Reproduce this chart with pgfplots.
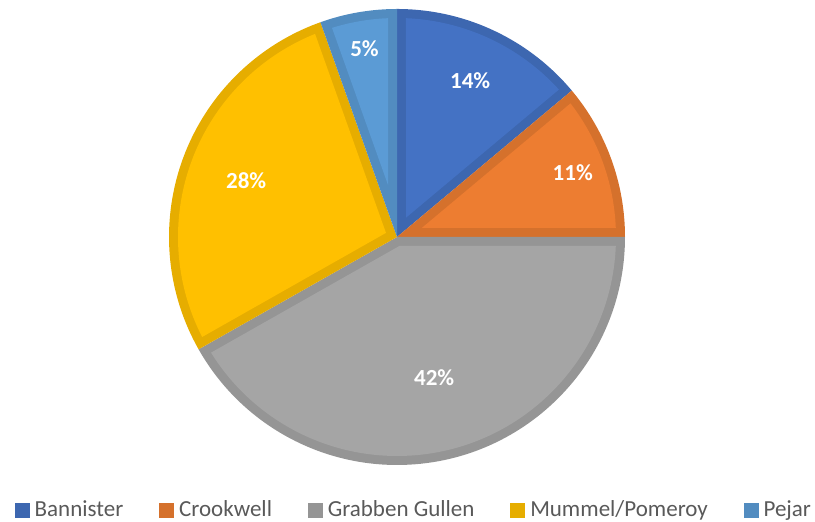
\documentclass[border=0pt]{standalone}
\usepackage{pgfplots}
\usepackage{pgfplotstable}
\pgfplotsset{compat=1.18}
\usepackage{fontspec}
\setmainfont{Carlito}
\definecolor{cBan}{HTML}{4472C4}\definecolor{dBan}{HTML}{3D67B0}
\definecolor{cCro}{HTML}{ED7D31}\definecolor{dCro}{HTML}{D5712C}
\definecolor{cGra}{HTML}{A5A5A5}\definecolor{dGra}{HTML}{959595}
\definecolor{cMum}{HTML}{FFC000}\definecolor{dMum}{HTML}{E6AD00}
\definecolor{cPej}{HTML}{5B9BD5}\definecolor{dPej}{HTML}{528CC0}
\definecolor{legtext}{HTML}{595959}

% value = share in percent; lr = label distance from centre (px)
\pgfplotstableread{
label value fillc drawc lr
Bannister 13.9 cBan dBan 173
Crookwell 11.1 cCro dCro 187
{Grabben Gullen} 41.8 cGra dGra 146
Mummel/Pomeroy 27.75 cMum dMum 161
Pejar 5.45 cPej dPej 191
}\piedata

\begin{document}
\begin{tikzpicture}
\useasboundingbox (0,0) rectangle (407.5pt,261pt);
\begin{axis}[
  hide axis, scale only axis,
  x=0.5pt, y=0.5pt,
  xmin=0, xmax=815, ymin=0, ymax=522,
  at={(0,0)}, anchor=south west,
  clip=false,
  legend columns=5,
  legend image code/.code={\fill[#1] (0pt,-3.5pt) rectangle (7pt,3.5pt);},
  legend style={at={(0.5067,0.023)}, anchor=center, draw=none, fill=none,
    font=\fontsize{11.5}{14}\selectfont, text=legtext,
    nodes={inner sep=0pt},
    /tikz/every odd column/.append style={column sep=2.5pt},
    /tikz/every even column/.append style={column sep=18pt}},
]
\pgfmathsetmacro{\R}{228}
\pgfmathsetmacro{\w}{9}
\pgfmathsetmacro{\Ri}{\R-\w}
\pgfmathsetmacro{\Rpt}{\R*0.5}
\pgfmathsetmacro{\Ript}{\Ri*0.5}
\pgfmathsetmacro{\rat}{\w/\Ri}
\pgfmathsetmacro{\dl}{asin(\rat)}
\pgfplotstablegetrowsof{\piedata}
\pgfmathtruncatemacro{\nrows}{\pgfplotsretval-1}
\xdef\sa{90}
\pgfplotsforeachungrouped \i in {0,...,\nrows}{
  \pgfplotstablegetelem{\i}{value}\of\piedata \edef\val{\pgfplotsretval}
  \pgfplotstablegetelem{\i}{fillc}\of\piedata \edef\fc{\pgfplotsretval}
  \pgfplotstablegetelem{\i}{drawc}\of\piedata \edef\dc{\pgfplotsretval}
  \pgfplotstablegetelem{\i}{lr}\of\piedata \edef\lr{\pgfplotsretval}
  \pgfplotstablegetelem{\i}{label}\of\piedata \edef\lab{\pgfplotsretval}
  \pgfmathsetmacro{\ea}{\sa-3.6*\val}
  \pgfmathsetmacro{\ma}{(\sa+\ea)/2}
  \pgfmathsetmacro{\ap}{\w/sin((\sa-\ea)/2)}
  \pgfmathsetmacro{\ax}{397+\ap*cos(\ma)}
  \pgfmathsetmacro{\ay}{285+\ap*sin(\ma)}
  \pgfmathsetmacro{\ox}{397+\R*cos(\sa)}
  \pgfmathsetmacro{\oy}{285+\R*sin(\sa)}
  \pgfmathsetmacro{\aone}{\sa-\dl}
  \pgfmathsetmacro{\atwo}{\ea+\dl}
  \pgfmathsetmacro{\ix}{397+\Ri*cos(\aone)}
  \pgfmathsetmacro{\iy}{285+\Ri*sin(\aone)}
  \pgfmathsetmacro{\lx}{397+\lr*cos(\ma)}
  \pgfmathsetmacro{\ly}{285+\lr*sin(\ma)}
  \pgfmathtruncatemacro{\pct}{round(\val)}
  \edef\temp{%
    \noexpand\fill[\dc] (axis cs:397,285) -- (axis cs:\ox,\oy)
       arc[start angle=\sa, end angle=\ea, radius=\Rpt pt] -- cycle;
    \noexpand\fill[\fc] (axis cs:\ax,\ay) -- (axis cs:\ix,\iy)
       arc[start angle=\aone, end angle=\atwo, radius=\Ript pt] -- cycle;
    \noexpand\node[text=white, font=\noexpand\fontsize{11.5}{14}\noexpand\selectfont\noexpand\bfseries]
       at (axis cs:\lx,\ly) {\pct\noexpand\%};
    \noexpand\addlegendimage{\dc}
    \noexpand\addlegendentry{\lab}
  }\temp
  \xdef\sa{\ea}
}
\end{axis}
\end{tikzpicture}
\end{document}
